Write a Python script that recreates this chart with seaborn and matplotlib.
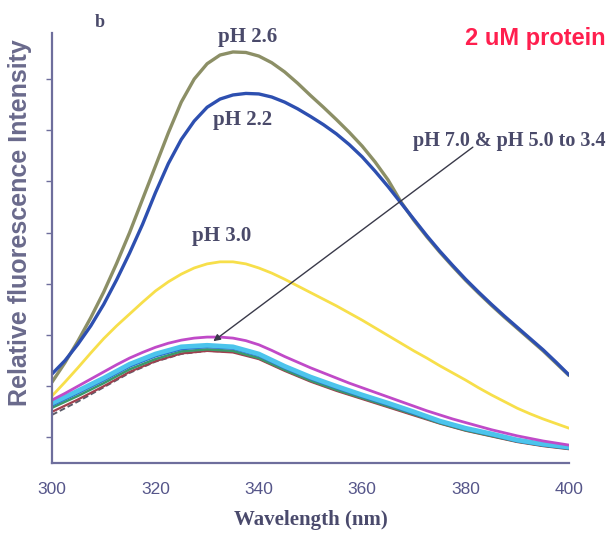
import matplotlib
matplotlib.use("Agg")
import matplotlib.pyplot as plt
import seaborn as sns
import pandas as pd
from matplotlib.ticker import MultipleLocator, FixedLocator

# Emission wavelengths (nm): fine grid for the strong spectra, coarse for the rest
wavelength_fine = [300, 302.5, 305, 307.5, 310, 312.5, 315, 317.5, 320, 322.5,
                   325, 327.5, 330, 332.5, 335, 337.5, 340, 342.5, 345, 347.5,
                   350, 352.5, 355, 357.5, 360, 362.5, 365, 367.5, 370, 372.5,
                   375, 377.5, 380, 382.5, 385, 387.5, 390, 392.5, 395, 397.5,
                   400]
wavelength = [300, 305, 310, 315, 320, 325, 330, 335, 340, 345, 350,
              355, 360, 365, 370, 375, 380, 385, 390, 395, 400]

# Relative fluorescence intensity (a.u.)
ph_2_6 = [158, 196, 238, 284, 334, 390, 450, 515, 580, 645,
          705, 750, 780, 797, 803, 802, 795, 782, 764, 742,
          718, 695, 671, 646, 619, 588, 553, 510, 474, 442,
          412, 384, 357, 332, 308, 285, 263, 241, 219, 195,
          171]
ph_2_2 = [174, 200, 232, 268, 310, 358, 410, 466, 528, 585,
          632, 668, 695, 711, 719, 722, 721, 715, 705, 692,
          677, 661, 643, 622, 598, 570, 540, 508, 476, 444,
          414, 386, 359, 334, 310, 287, 265, 243, 221, 197,
          172]
ph_3_0 = [131, 158, 186, 215, 243, 268, 291, 314, 336, 354,
          369, 381, 389, 393, 393, 389, 381, 371, 359, 346,
          333, 320, 307, 293, 279, 264, 249, 234, 219, 205,
          190, 176, 162, 147, 133, 120, 107, 96, 86, 77,
          68]
ph_7_0 = [123, 136, 150, 164, 178, 192, 205, 216, 226, 234,
          240, 244, 246, 246, 244, 239, 231, 220, 208, 197,
          186, 176, 166, 156, 147, 138, 129, 120, 111, 102,
          94, 86, 79, 72, 65, 59, 53, 48, 43, 39,
          35]
ph_5_0 = [117, 141, 166, 193, 213, 227, 230, 227, 213, 189, 168,
          150, 133, 117, 100, 82, 68, 57, 45, 37, 31]
ph_4_6 = [113, 137, 162, 189, 209, 223, 227, 224, 210, 186, 165,
          147, 130, 114, 97, 80, 66, 55, 43, 35, 29]
ph_4_2 = [108, 131, 156, 183, 203, 218, 222, 219, 205, 182, 161,
          143, 127, 111, 95, 78, 64, 53, 42, 34, 28]
ph_3_8 = [100, 124, 150, 178, 199, 214, 219, 216, 203, 180, 159,
          141, 125, 109, 93, 77, 63, 52, 41, 33, 27]
ph_3_4 = [94, 120, 148, 176, 198, 213, 219, 217, 204, 181, 160,
          142, 126, 110, 94, 78, 64, 53, 42, 34, 28]

x_ticks = [300, 320, 340, 360, 380, 400]
y_ticks = [50, 150, 250, 350, 450, 550, 650, 750]

# (x, values, colour, width, dash) in drawing order, bottom layer first
series = [
    (wavelength, ph_3_4, "#5c5c6a", 1.4, (0, (3, 1.5))),
    (wavelength, ph_3_8, "#a0404e", 1.6, "-"),
    (wavelength, ph_4_2, "#3a9a6a", 1.8, "-"),
    (wavelength, ph_4_6, "#2a72cc", 2.2, "-"),
    (wavelength, ph_5_0, "#4cc4ec", 3.4, "-"),
    (wavelength_fine, ph_7_0, "#c04ac8", 2.0, "-"),
    (wavelength_fine, ph_3_0, "#f7df4a", 2.0, "-"),
    (wavelength_fine, ph_2_6, "#8c8f66", 2.4, "-"),
    (wavelength_fine, ph_2_2, "#2d4fb0", 2.4, "-"),
]

sns.set_style("white")
fig = plt.figure(figsize=(6.07, 5.37), dpi=100)
ax = fig.add_axes([0.0857, 0.1378, 0.8517, 0.8007])

for xs, vals, col, lw, ls in series:
    df = pd.DataFrame({"Wavelength": xs, "Intensity": vals})
    sns.lineplot(data=df, x="Wavelength", y="Intensity", ax=ax, color=col,
                 linewidth=lw, linestyle=ls, legend=False)

ax.set_xlim(300, 400)
ax.set_ylim(0, 840)

axis_col = "#6e6e9c"
for side in ("top", "right"):
    ax.spines[side].set_visible(False)
for side in ("left", "bottom"):
    ax.spines[side].set_color(axis_col)
    ax.spines[side].set_linewidth(1.6)

ax.xaxis.set_major_locator(FixedLocator(x_ticks))
ax.xaxis.set_minor_locator(MultipleLocator(10))
ax.yaxis.set_major_locator(FixedLocator(y_ticks))
ax.set_yticklabels([])
ax.tick_params(axis="x", which="major", direction="out", length=7, width=1.2,
               color=axis_col, labelsize=12.5, labelcolor="#56568a", pad=7)
ax.tick_params(axis="x", which="minor", direction="out", length=4, width=1.0,
               color=axis_col)
ax.tick_params(axis="y", which="major", direction="out", length=4, width=1.0,
               color=axis_col, left=True)
for lab in ax.get_xticklabels():
    lab.set_family("Liberation Sans")

ax.set_xlabel("Wavelength (nm)", family="Liberation Serif", fontweight="bold",
              fontsize=15, color="#4a4a6c", labelpad=9)
ax.set_ylabel("Relative fluorescence Intensity", family="Liberation Sans",
              fontweight="bold", fontsize=18, color="#6a6a8c")
ax.yaxis.set_label_coords(-0.038, 0.558)

lab_col = "#4a4a6a"
serif = "Liberation Serif"
ax.text(337.9, 832, "pH 2.6", family=serif, fontweight="bold", fontsize=15,
        color=lab_col, ha="center", va="center")
ax.text(336.9, 670, "pH 2.2", family=serif, fontweight="bold", fontsize=15,
        color=lab_col, ha="center", va="center")
ax.text(332.9, 443, "pH 3.0", family=serif, fontweight="bold", fontsize=15,
        color=lab_col, ha="center", va="center")
ax.text(309.3, 861, "b", family=serif, fontweight="bold", fontsize=13,
        color=lab_col, ha="center", va="center", clip_on=False)
ax.text(407.0, 630, "pH 7.0 & pH 5.0 to 3.4", family=serif, fontweight="bold",
        fontsize=14.5, color=lab_col, ha="right", va="center", clip_on=False)
ax.text(407.0, 830, "2 uM protein", family="Liberation Sans", fontweight="bold",
        fontsize=17, color="#ff1f4e", ha="right", va="center", clip_on=False)

ax.annotate("", xy=(331.2, 238), xytext=(381.4, 617),
            arrowprops=dict(arrowstyle="-|>", color="#3a3a4a", lw=1.0,
                            mutation_scale=10, shrinkA=0, shrinkB=0))

fig.savefig("out.png", dpi=100)
